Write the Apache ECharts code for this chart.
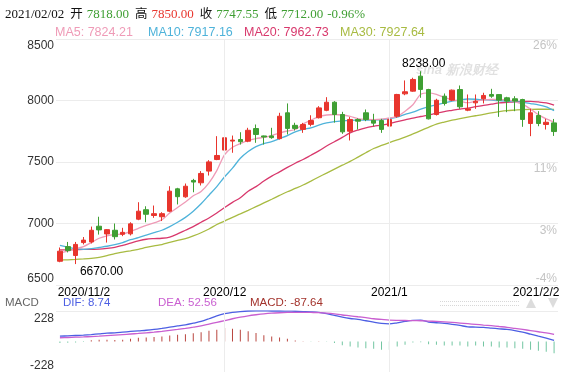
<!DOCTYPE html>
<html><head><meta charset="utf-8">
<script src="https://cdn.jsdelivr.net/npm/echarts@6/dist/echarts.min.js"></script>
<style>html,body{margin:0;padding:0;background:#fff}#c{width:567px;height:372px}</style>
</head><body><div id="c"></div>
<script>
// ---------- data ----------
const dates = [
 '2020/11/2','2020/11/3','2020/11/4','2020/11/5','2020/11/6','2020/11/9','2020/11/10','2020/11/11','2020/11/12','2020/11/13',
 '2020/11/16','2020/11/17','2020/11/18','2020/11/19','2020/11/20','2020/11/23','2020/11/24','2020/11/25','2020/11/26','2020/11/27','2020/11/30',
 '2020/12/1','2020/12/2','2020/12/3','2020/12/4','2020/12/7','2020/12/8','2020/12/9','2020/12/10','2020/12/11','2020/12/14',
 '2020/12/15','2020/12/16','2020/12/17','2020/12/18','2020/12/21','2020/12/22','2020/12/23','2020/12/28','2020/12/29','2020/12/30','2020/12/31',
 '2021/1/4','2021/1/5','2021/1/6','2021/1/7','2021/1/8','2021/1/11','2021/1/12','2021/1/13','2021/1/14','2021/1/15',
 '2021/1/18','2021/1/19','2021/1/20','2021/1/21','2021/1/22','2021/1/25','2021/1/26','2021/1/27','2021/1/28','2021/1/29',
 '2021/2/1','2021/2/2'
];
const opens  = [6693,6812,6740,6845,6850,6978,6915,6945,6912,6916,7035,7112,7065,7055,7100,7282,7217,7350,7331,7426,7520,7597,7670,7683,7669,7772,7712,7712,7690,7900,7798,7765,7806,7860,7920,7986,7886,7750,7845,7900,7838,7837,7792,7872,8054,8076,8198,8089,7886,8035,8003,8089,7921,7981,8014,8049,8048,8022,8014,8008,7813,7878,7805,7818];
const closes = [6775,6780,6830,6865,6945,6948,6950,6893,6928,6997,7100,7075,7080,7080,7263,7218,7303,7337,7407,7501,7553,7697,7678,7665,7758,7724,7703,7698,7872,7773,7773,7805,7837,7940,7986,7886,7745,7846,7832,7846,7816,7765,7846,8049,8071,8171,8090,7851,8002,7976,8084,7949,7932,7994,8041,8035,8003,7995,7995,7846,7900,7813,7823,7747.55];
const lows   = [6685,6765,6670,6830,6838,6910,6845,6870,6897,6903,7027,7010,7046,7020,7092,7155,7209,7254,7309,7390,7515,7588,7575,7642,7661,7656,7642,7689,7683,7724,7756,7737,7790,7854,7913,7820,7729,7675,7764,7832,7791,7737,7778,7860,8043,8071,8022,7846,7878,7959,7995,7932,7913,7932,7976,8022,7867,7905,7913,7786,7710,7791,7764,7712];
const highs  = [6805,6850,6850,6890,6975,7055,6955,7000,6965,7010,7173,7140,7146,7092,7303,7290,7325,7363,7426,7515,7710,7742,7715,7742,7778,7805,7715,7778,7900,7976,7819,7818,7880,7954,8027,7995,7908,7865,7855,7927,7892,7851,7927,8054,8163,8185,8238,8095,8014,8057,8089,8122,8049,8049,8063,8095,8050,8030,8035,8014,7933,7913,7851,7850];
const ma5  = [6760,6775,6795,6812,6845,6880,6900,6910,6915,6935,6960,6985,7005,7030,7085,7130,7175,7225,7260,7330,7430,7560,7620,7650,7675,7690,7700,7715,7735,7752,7764,7810,7840,7868,7882,7886,7882,7870,7852,7846,7845,7848,7858,7870,7913,7965,8050,8062,8050,8025,8005,7995,7982,7995,8005,8008,8008,8005,7990,7970,7930,7885,7850,7824.21];
const ma10 = [6822,6808,6795,6790,6795,6805,6815,6828,6845,6868,6885,6905,6925,6945,6975,7010,7050,7100,7160,7230,7300,7380,7450,7530,7585,7625,7650,7665,7690,7715,7745,7765,7778,7800,7818,7828,7834,7838,7840,7840,7842,7845,7852,7865,7888,7905,7930,7950,7965,7980,7995,8005,8012,8010,8006,8003,8000,7995,7990,7985,7975,7965,7948,7917.16];
const ma20 = [6785,6786,6788,6789,6790,6791,6797,6806,6822,6840,6858,6872,6877,6880,6890,6915,6945,6975,7010,7045,7085,7130,7172,7210,7262,7300,7345,7385,7420,7456,7490,7520,7555,7590,7630,7665,7700,7737,7760,7778,7790,7800,7812,7828,7843,7856,7870,7882,7897,7910,7920,7930,7938,7950,7960,7970,7980,7985,7990,7993,7993,7988,7980,7962.73];
const ma30 = [6702,6705,6708,6712,6717,6725,6738,6755,6767,6778,6790,6805,6818,6829,6846,6862,6878,6900,6925,6955,6992,7020,7050,7078,7107,7137,7167,7197,7228,7258,7285,7313,7345,7378,7410,7442,7474,7505,7540,7575,7610,7635,7658,7680,7702,7728,7755,7782,7808,7825,7840,7853,7865,7876,7887,7900,7910,7918,7922,7926,7928,7929,7929,7927.64];
const dif  = [40,42,45,48,52,57,62,65,70,75,80,84,90,98,107,116,125,137,150,170,192,208,218,224,228,229,229,228,228,227,226,224,222,218,208,195,182,172,165,155,145,135,132,140,150,158,160,145,140,135,128,120,110,108,105,100,95,90,82,70,55,40,25,8.74];
const dea  = [28,30,32,34,37,40,44,48,52,56,60,65,70,76,83,90,98,107,117,130,143,156,170,182,192,200,207,212,215,217,218,218,217,216,212,206,198,192,185,178,170,165,160,158,157,156,155,153,150,147,143,138,133,128,123,118,112,106,98,90,82,73,64,52.56];
const macdHist = [-12,-10,-8,-4,10,13,14,12,14,20,28,30,33,38,45,50,55,62,70,80,88,101,95,88,76,63,46,38,30,20,8,2,-2,1,-2,-12,-28,-38,-45,-50,-55,-62,-62,-38,-25,-8,-5,-20,-25,-30,-30,-30,-38,-30,-38,-38,-45,-45,-50,-55,-62,-70,-76,-87.64];
const xTickDates = ['2020/11/2','2020/12/1','2021/1/4','2021/2/2'];
const xTickTexts = ['2020/11/2','2020/12','2021/1','2021/2/2'];
const monthLineDates = ['2020/12/1','2021/1/4'];
const priceTicks = [6500,7000,7500,8000,8500];
const pctTicks = ['-4%','3%','11%','','26%'];
const macdTicks = [-228,228];

// ---------- styles ----------
const UP='#e8352d', DOWN='#3f9f33';
const C5='#ef9bb7', C10='#4fb3da', C20='#d8386c', C30='#a8bb42';
const CDIF='#4d5fe3', CDEA='#c95fd0';
const SANS='"Liberation Sans", Arial, sans-serif';
const SERIF='"Liberation Serif", "Noto Sans CJK SC", serif';
const GRIDC='#ececec';

const n = dates.length;
const candleData = dates.map((d,i)=>[opens[i],closes[i],lows[i],highs[i]]);
const prevClose = closes[n-2];
const pct = (closes[n-1]-prevClose)/prevClose*100;
const colKey = v => v>prevClose?'r':(v<prevClose?'g':'k');
const f2 = v => v.toFixed(2);
const lastDate = dates[n-1].split('/').map((s,i)=>i===0?s:s.padStart(2,'0')).join('/');

function txt(x,y,text,color,font){
  return {type:'text',x:x,y:y,silent:true,style:{text:text,fill:color,font:font,textVerticalAlign:'middle'}};
}
const HF = 13;
const headerText = '{k|'+lastDate+'}{c|开}{'+colKey(opens[n-1])+'|'+f2(opens[n-1])+'}{c|高}{'+colKey(highs[n-1])+'|'+f2(highs[n-1])+'}'
  +'{c|收}{'+colKey(closes[n-1])+'|'+f2(closes[n-1])+'}{c|低}{'+colKey(lows[n-1])+'|'+f2(lows[n-1])+'}{p|'+pct.toFixed(2)+'%}';
const graphics = [
  {type:'text',x:5,y:15,silent:true,style:{text:headerText,textVerticalAlign:'middle',
    rich:{
      k:{fill:'#111',fontSize:HF,fontFamily:SERIF},
      c:{fill:'#111',fontSize:HF-0.5,fontFamily:SERIF,padding:[0,4,0,6]},
      r:{fill:UP,fontSize:HF,fontFamily:SERIF},
      g:{fill:DOWN,fontSize:HF,fontFamily:SERIF},
      p:{fill:pct<0?DOWN:UP,fontSize:HF,fontFamily:SERIF,padding:[0,0,0,4]}
    }}},
  txt(55,33,'MA5: '+f2(ma5[n-1]),C5,'12.5px '+SANS),
  txt(148,33,'MA10: '+f2(ma10[n-1]),C10,'12.5px '+SANS),
  txt(244,33,'MA20: '+f2(ma20[n-1]),C20,'12.5px '+SANS),
  txt(340,33,'MA30: '+f2(ma30[n-1]),C30,'12.5px '+SANS),
  txt(5,303,'MACD','#666','11.5px '+SANS),
  txt(63,303,'DIF: '+f2(dif[n-1]),CDIF,'11.5px '+SANS),
  txt(158,303,'DEA: '+f2(dea[n-1]),CDEA,'11.5px '+SANS),
  txt(250,303,'MACD: '+f2(macdHist[n-1]),'#a3332c','11.5px '+SANS),
  {type:'text',x:416,y:70,silent:true,z:0,style:{text:'sina 新浪财经',fill:'rgba(0,0,0,0.12)',font:'italic bold 13px '+SANS,textVerticalAlign:'middle'}},
  {type:'line',silent:true,shape:{x1:440,y1:301.5,x2:520,y2:301.5},style:{stroke:'#d8d8d8',lineDash:[1,1],lineWidth:1}},
  {type:'line',silent:true,shape:{x1:440,y1:305.5,x2:520,y2:305.5},style:{stroke:'#d8d8d8',lineDash:[1,1],lineWidth:1}},
  {type:'polygon',silent:true,shape:{points:[[526,308],[536,308],[531,298]]},style:{fill:'#dcdcdc'}},
  {type:'polygon',silent:true,shape:{points:[[548,298],[558,298],[553,308]]},style:{fill:'#dcdcdc'}}
];

const vLines = {silent:true,symbol:'none',label:{show:false},lineStyle:{color:GRIDC,type:'solid',width:1},
  data: monthLineDates.map(d=>({xAxis:d}))};

const option = {
  animation:false,
  backgroundColor:'#fff',
  graphic: graphics,
  grid:[
    {left:56,right:9,top:39,height:246},
    {left:56,right:9,top:311,bottom:0}
  ],
  xAxis:[
    {type:'category',gridIndex:0,data:dates,boundaryGap:true,
     axisLine:{show:false},axisTick:{show:false},splitLine:{show:false},
     axisLabel:{show:true,margin:2,color:'#000',fontSize:12,fontFamily:SANS,
       interval:(idx,val)=>xTickDates.indexOf(val)>=0,
       formatter:(val)=>{const k=xTickDates.indexOf(val); if(k<0) return '';
         const s = k===0?'a':(k===xTickDates.length-1?'z':'m'); return '{'+s+'|'+xTickTexts[k]+'}';},
       rich:{a:{fontSize:12,color:'#000',fontFamily:SANS,padding:[0,0,0,48]},
             z:{fontSize:12,color:'#000',fontFamily:SANS,padding:[0,36,0,0]},
             m:{fontSize:12,color:'#000',fontFamily:SANS}}}},
    {type:'category',gridIndex:1,data:dates,boundaryGap:true,
     axisLine:{show:false},axisTick:{show:false},axisLabel:{show:false},splitLine:{show:false}}
  ],
  yAxis:[
    {type:'value',gridIndex:0,min:priceTicks[0],max:priceTicks[priceTicks.length-1],interval:500,
     axisLine:{show:false},axisTick:{show:false},
     splitLine:{show:true,lineStyle:{color:GRIDC,width:1}},
     axisLabel:{margin:2,color:'#333',fontSize:12,fontFamily:SANS,
       formatter:(v)=>{const s = v===priceTicks[priceTicks.length-1]?'t':(v===priceTicks[0]?'b':'m'); return '{'+s+'|'+v+'}';},
       rich:{t:{fontSize:12,color:'#333',fontFamily:SANS,padding:[14,0,0,0]},
             b:{fontSize:12,color:'#333',fontFamily:SANS,padding:[0,0,12,0]},
             m:{fontSize:12,color:'#333',fontFamily:SANS}}}},
    {type:'value',gridIndex:0,position:'right',min:priceTicks[0],max:priceTicks[priceTicks.length-1],interval:500,
     axisLine:{show:false},axisTick:{show:false},splitLine:{show:false},
     axisLabel:{inside:true,margin:1,color:'#c4c4c4',fontSize:12,fontFamily:SANS,
       formatter:(v)=>{const k=priceTicks.indexOf(v); const t=pctTicks[k]; if(!t) return '';
         const s = k===priceTicks.length-1?'t':(k===0?'b':'m'); return '{'+s+'|'+t+'}';},
       rich:{t:{fontSize:12,color:'#c4c4c4',fontFamily:SANS,padding:[14,0,0,0]},
             b:{fontSize:12,color:'#c4c4c4',fontFamily:SANS,padding:[0,0,13,0]},
             m:{fontSize:12,color:'#c4c4c4',fontFamily:SANS,padding:[14,0,0,0]}}}},
    {type:'value',gridIndex:1,min:macdTicks[0],max:macdTicks[1],interval:macdTicks[1]-macdTicks[0],
     axisLine:{show:false},axisTick:{show:false},
     splitLine:{show:true,lineStyle:{color:GRIDC,width:1}},
     axisLabel:{margin:2,color:'#333',fontSize:12,fontFamily:SANS,
       formatter:(v)=>v>0?'{t|'+v+'}':'{b|'+v+'}',
       rich:{t:{fontSize:12,color:'#333',fontFamily:SANS,padding:[16,0,0,0]},
             b:{fontSize:12,color:'#333',fontFamily:SANS,padding:[0,0,12,0]}}}}
  ],
  series:[
    {name:'MA30',type:'line',xAxisIndex:0,yAxisIndex:0,data:ma30,showSymbol:false,smooth:0.3,z:2,
     lineStyle:{color:C30,width:1.3},markLine:vLines},
    {name:'MA20',type:'line',xAxisIndex:0,yAxisIndex:0,data:ma20,showSymbol:false,smooth:0.3,z:2,lineStyle:{color:C20,width:1.3}},
    {name:'MA10',type:'line',xAxisIndex:0,yAxisIndex:0,data:ma10,showSymbol:false,smooth:0.3,z:2,lineStyle:{color:C10,width:1.3}},
    {name:'MA5',type:'line',xAxisIndex:0,yAxisIndex:0,data:ma5,showSymbol:false,smooth:0.3,z:2,lineStyle:{color:C5,width:1.3}},
    {name:'K',type:'candlestick',xAxisIndex:0,yAxisIndex:0,data:candleData,barWidth:5,z:3,
     itemStyle:{color:UP,color0:DOWN,borderColor:UP,borderColor0:DOWN,borderWidth:1},
     markPoint:{symbol:'circle',symbolSize:0,
       label:{show:true,color:'#000',fontSize:12,fontFamily:SANS,formatter:p=>Number(p.value).toFixed(2)},
       data:[
         {type:'max',valueDim:'highest',label:{position:'inside',offset:[3,-8]}},
         {type:'min',valueDim:'lowest',label:{position:'inside',offset:[26,8]}}
       ]}},
    {name:'MACD',type:'bar',xAxisIndex:1,yAxisIndex:2,data:macdHist,barWidth:1,z:2,
     itemStyle:{color:p=>p.value>=0?'#b9463f':'#72c6a1'},markLine:vLines},
    {name:'DIF',type:'line',xAxisIndex:1,yAxisIndex:2,data:dif,showSymbol:false,smooth:0.3,z:3,lineStyle:{color:CDIF,width:1.3}},
    {name:'DEA',type:'line',xAxisIndex:1,yAxisIndex:2,data:dea,showSymbol:false,smooth:0.3,z:3,lineStyle:{color:CDEA,width:1.3}}
  ]
};
const chart = echarts.init(document.getElementById('c'));
chart.setOption(option);
</script>
</body></html>
